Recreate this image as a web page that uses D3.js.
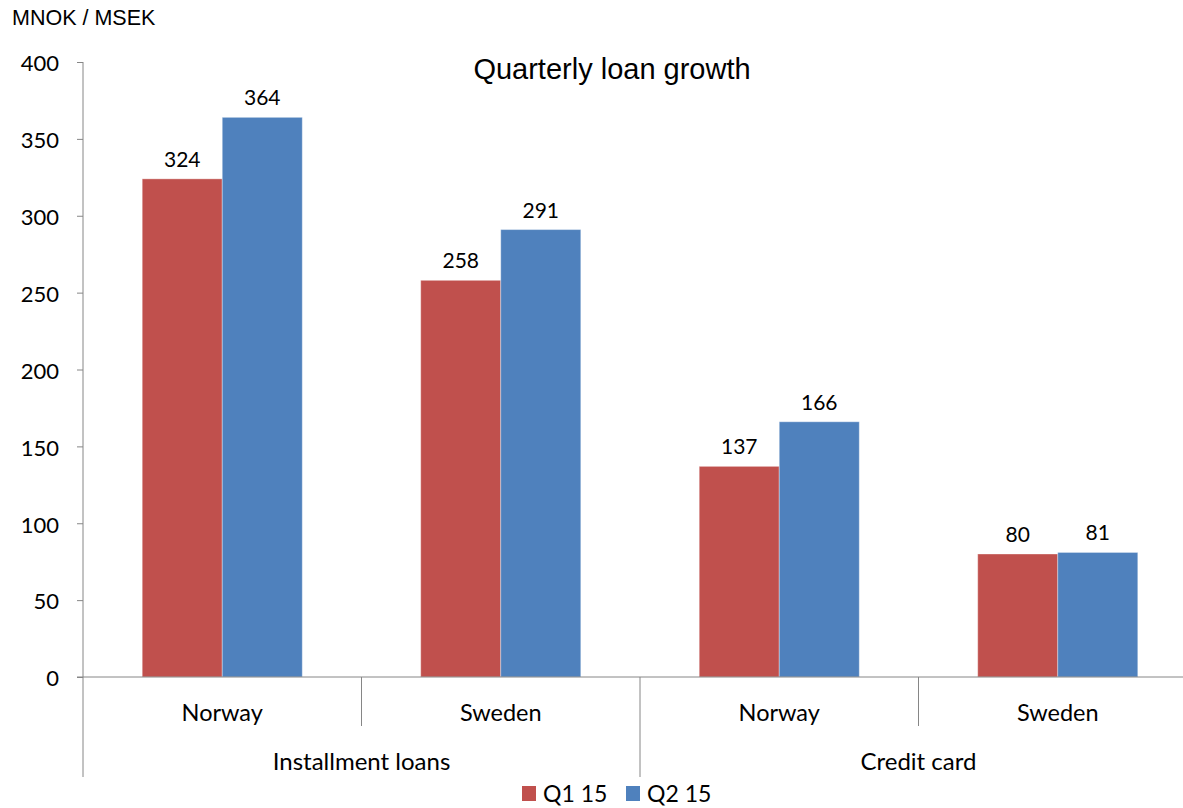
<!DOCTYPE html>
<html>
<head>
<meta charset="utf-8">
<script src="https://cdn.jsdelivr.net/npm/d3@7"></script>
<style>
  html, body { margin: 0; padding: 0; background: #fff; }
  svg { display: block; }
</style>
</head>
<body>
<svg id="chart" width="1183" height="808"></svg>
<script>
// Loan growth per product group and country, MNOK / MSEK
const groups = ["Installment loans", "Credit card"];
const countries = ["Norway", "Sweden"];
const categories = ["Installment loans|Norway", "Installment loans|Sweden", "Credit card|Norway", "Credit card|Sweden"];
const seriesNames = ["Q1 15", "Q2 15"];
const q1Values = [324, 258, 137, 80];
const q2Values = [364, 291, 166, 81];
const yTicks = [0, 50, 100, 150, 200, 250, 300, 350, 400];
const colors = ["#C0504D", "#4F81BD"];

(function draw() {
  const svg = d3.select("#chart");
  const axisColor = "#868686";
  const bodyFont = "Lato, 'Open Sans', sans-serif";
  const headFont = "Arial, 'Liberation Sans', sans-serif";
  const plotLeft = 83, plotRight = 1197, plotTop = 62, plotBottom = 677;

  const x0 = d3.scaleBand().domain(categories).range([plotLeft, plotRight]).paddingInner(0).paddingOuter(0);
  const x1 = d3.scaleBand().domain(seriesNames).range([0, x0.bandwidth()]).paddingInner(0).paddingOuter(0.74);
  const y = d3.scaleLinear().domain([0, 400]).range([plotBottom, plotTop]);

  const seriesValues = [q1Values, q2Values];

  // Bars and value labels
  const barG = svg.append("g");
  categories.forEach((c, i) => {
    seriesNames.forEach((s, j) => {
      const v = seriesValues[j][i];
      barG.append("rect")
        .attr("x", x0(c) + x1(s))
        .attr("y", y(v))
        .attr("width", x1.bandwidth())
        .attr("height", y(0) - y(v))
        .attr("fill", colors[j])
        .attr("stroke", "#ffffff")
        .attr("stroke-opacity", 0.35)
        .attr("stroke-width", 1);
      barG.append("text")
        .attr("x", x0(c) + x1(s) + x1.bandwidth() / 2)
        .attr("y", y(v) - 12)
        .attr("text-anchor", "middle")
        .attr("font-family", bodyFont)
        .attr("font-size", 21)
        .attr("fill", "#000")
        .text(v);
    });
  });

  // Y axis
  const yAxis = d3.axisLeft(y).tickValues(yTicks).tickSize(6).tickPadding(18).tickFormat(d3.format("d"));
  const yg = svg.append("g").attr("transform", `translate(${plotLeft},0)`).call(yAxis);
  yg.select(".domain").remove();
  yg.selectAll(".tick line").attr("stroke", axisColor);
  yg.selectAll(".tick text")
    .attr("dy", "0.4em")
    .attr("font-family", bodyFont)
    .attr("font-size", 22)
    .attr("fill", "#000");

  // Vertical axis line, extended down through the category label area
  svg.append("line")
    .attr("x1", plotLeft).attr("x2", plotLeft)
    .attr("y1", plotTop).attr("y2", 777)
    .attr("stroke", axisColor).attr("stroke-width", 1);

  // Baseline
  svg.append("line")
    .attr("x1", plotLeft - 6).attr("x2", plotRight)
    .attr("y1", y(0)).attr("y2", y(0))
    .attr("stroke", axisColor).attr("stroke-width", 1);

  // Category separators: short between countries, long between groups
  categories.forEach((c, i) => {
    if (i === 0) return;
    const isGroupEdge = c.split("|")[1] === countries[0];
    svg.append("line")
      .attr("x1", x0(c)).attr("x2", x0(c))
      .attr("y1", y(0)).attr("y2", isGroupEdge ? 777 : 726)
      .attr("stroke", axisColor).attr("stroke-width", 1);
  });

  // Country labels
  categories.forEach(c => {
    svg.append("text")
      .attr("x", x0(c) + x0.bandwidth() / 2)
      .attr("y", 721)
      .attr("text-anchor", "middle")
      .attr("font-family", bodyFont)
      .attr("font-size", 23.5)
      .attr("fill", "#000")
      .text(c.split("|")[1]);
  });

  // Group labels
  groups.forEach(g => {
    const members = categories.filter(c => c.split("|")[0] === g);
    const cx = (x0(members[0]) + x0(members[members.length - 1]) + x0.bandwidth()) / 2;
    svg.append("text")
      .attr("x", cx)
      .attr("y", 770)
      .attr("text-anchor", "middle")
      .attr("font-family", bodyFont)
      .attr("font-size", 24)
      .attr("fill", "#000")
      .text(g);
  });

  // Title
  svg.append("text")
    .attr("x", 612).attr("y", 79)
    .attr("text-anchor", "middle")
    .attr("font-family", headFont)
    .attr("font-size", 29)
    .attr("fill", "#000")
    .text("Quarterly loan growth");

  // Unit label
  svg.append("text")
    .attr("x", 12).attr("y", 25)
    .attr("font-family", headFont)
    .attr("font-size", 21.5)
    .attr("fill", "#000")
    .text("MNOK / MSEK");

  // Legend
  const legendX = [522, 626];
  seriesNames.forEach((s, j) => {
    svg.append("rect")
      .attr("x", legendX[j]).attr("y", 786)
      .attr("width", 14).attr("height", 15)
      .attr("fill", colors[j]);
    svg.append("text")
      .attr("x", legendX[j] + 21).attr("y", 802)
      .attr("font-family", bodyFont)
      .attr("font-size", 23)
      .attr("fill", "#000")
      .text(s);
  });
})();
</script>
</body>
</html>
